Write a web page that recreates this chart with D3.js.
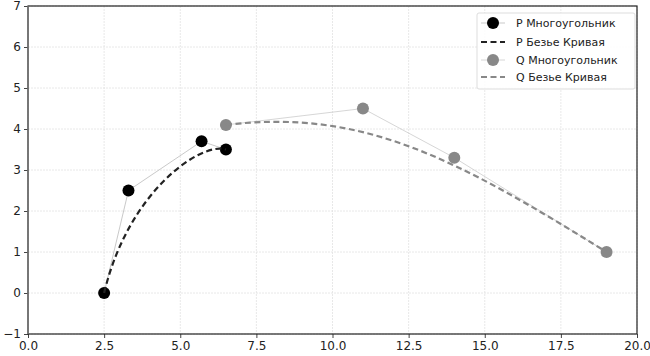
<!DOCTYPE html>
<html><head><meta charset="utf-8">
<script src="https://cdn.jsdelivr.net/npm/d3@7"></script>
<style>body{margin:0;background:#fff}svg{display:block}text{font-family:"DejaVu Sans",sans-serif}</style>
</head><body><svg id="c" width="650" height="356"></svg>
<script>
const pX = [2.5, 3.3, 5.7, 6.5];
const pY = [0, 2.5, 3.7, 3.5];
const qX = [6.5, 11, 14, 19];
const qY = [4.1, 4.5, 3.3, 1];
const xTicks = [0, 2.5, 5, 7.5, 10, 12.5, 15, 17.5, 20];
const yTicks = [-1, 0, 1, 2, 3, 4, 5, 6, 7];
const legendLabels = ["P Многоугольник", "P Безье Кривая", "Q Многоугольник", "Q Безье Кривая"];

const svg = d3.select("#c");
const L = 28, R = 637, T = 6, B = 334;
const x = d3.scaleLinear().domain([0, 20]).range([L, R]);
const y = d3.scaleLinear().domain([-1, 7]).range([B, T]);

// grid
const g = svg.append("g");
g.selectAll(".gx").data(xTicks).join("line")
  .attr("x1", d => x(d)).attr("x2", d => x(d)).attr("y1", T).attr("y2", B)
  .attr("stroke", "#e2e2e2").attr("stroke-width", 0.8).attr("stroke-dasharray", "2,1");
g.selectAll(".gy").data(yTicks).join("line")
  .attr("x1", L).attr("x2", R).attr("y1", d => y(d)).attr("y2", d => y(d))
  .attr("stroke", "#e2e2e2").attr("stroke-width", 0.8).attr("stroke-dasharray", "2,1");

// axes
const xa = svg.append("g").attr("transform", `translate(0,${B})`)
  .call(d3.axisBottom(x).tickValues(xTicks).tickFormat(d3.format(".1f")).tickSizeOuter(0).tickSize(4).tickPadding(3));
const ya = svg.append("g").attr("transform", `translate(${L},0)`)
  .call(d3.axisLeft(y).tickValues(yTicks).tickFormat(d3.format("d")).tickSizeOuter(0).tickSize(4).tickPadding(3));
[xa, ya].forEach(a => {
  a.select(".domain").remove();
  a.selectAll("text").attr("font-size", 12).attr("fill", "#222").attr("font-family", "DejaVu Sans");
  a.selectAll("line").attr("stroke", "#444");
});
// spines
svg.append("rect").attr("x", L).attr("y", T).attr("width", R - L).attr("height", B - T)
  .attr("fill", "none").attr("stroke", "#222").attr("stroke-width", 1.2);
svg.append("line").attr("x1", L).attr("x2", L).attr("y1", T).attr("y2", B).attr("stroke", "#777").attr("stroke-width", 1.5);

const pPts = pX.map((d, i) => [d, pY[i]]);
const qPts = qX.map((d, i) => [d, qY[i]]);
const line = d3.line().x(d => x(d[0])).y(d => y(d[1]));

function bez(pts) {
  const p = d3.path();
  p.moveTo(x(pts[0][0]), y(pts[0][1]));
  p.bezierCurveTo(x(pts[1][0]), y(pts[1][1]), x(pts[2][0]), y(pts[2][1]), x(pts[3][0]), y(pts[3][1]));
  return p.toString();
}

// polygons
svg.append("path").attr("d", line(pPts)).attr("fill", "none").attr("stroke", "#bbb").attr("stroke-width", 0.8);
svg.append("path").attr("d", line(qPts)).attr("fill", "none").attr("stroke", "#ccc").attr("stroke-width", 0.8);
// markers
svg.selectAll(".pm").data(pPts).join("circle").attr("cx", d => x(d[0])).attr("cy", d => y(d[1])).attr("r", 6).attr("fill", "#000");
svg.selectAll(".qm").data(qPts).join("circle").attr("cx", d => x(d[0])).attr("cy", d => y(d[1])).attr("r", 6).attr("fill", "#888");
// curves
svg.append("path").attr("d", bez(pPts)).attr("fill", "none").attr("stroke", "#222").attr("stroke-width", 2.2).attr("stroke-dasharray", "6,3.5");
svg.append("path").attr("d", bez(qPts)).attr("fill", "none").attr("stroke", "#888").attr("stroke-width", 2.2).attr("stroke-dasharray", "6,3.5");

// legend
const lg = svg.append("g");
lg.append("rect").attr("x", 477).attr("y", 13).attr("width", 158).attr("height", 76).attr("rx", 2)
  .attr("fill", "#fff").attr("fill-opacity", 0.85).attr("stroke", "#ddd");
const rows = [23, 42, 60, 77];
const styles = [
  {type: "m", color: "#000", lc: "#bbb"},
  {type: "l", color: "#222"},
  {type: "m", color: "#888", lc: "#ccc"},
  {type: "l", color: "#888"}
];
legendLabels.forEach((t, i) => {
  const s = styles[i], yy = rows[i];
  if (s.type === "m") {
    lg.append("line").attr("x1", 481).attr("x2", 505).attr("y1", yy).attr("y2", yy).attr("stroke", s.lc).attr("stroke-width", 0.8);
    lg.append("circle").attr("cx", 493).attr("cy", yy).attr("r", 6).attr("fill", s.color);
  } else {
    lg.append("line").attr("x1", 481).attr("x2", 505).attr("y1", yy).attr("y2", yy).attr("stroke", s.color).attr("stroke-width", 2.2).attr("stroke-dasharray", "6,3.5");
  }
  lg.append("text").attr("x", 516).attr("y", yy).attr("dy", "0.35em").attr("font-size", 11).attr("fill", "#222").text(t);
});
</script></body></html>
